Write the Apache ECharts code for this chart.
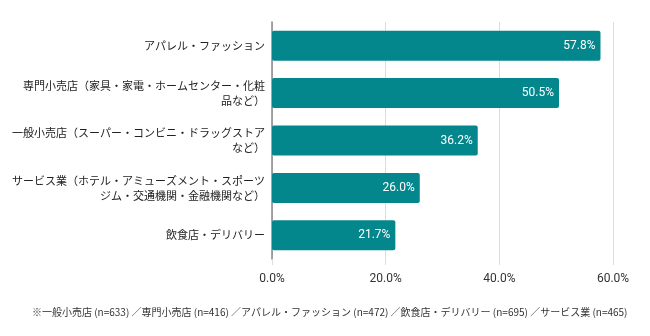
<!DOCTYPE html>
<html><head><meta charset="utf-8">
<script src="https://cdn.jsdelivr.net/npm/echarts@6/dist/echarts.min.js"></script>
<style>html,body{margin:0;padding:0;background:#fff}#c{width:650px;height:336px}</style>
</head><body><div id="c"></div>
<script>
const categories = [
  "アパレル・ファッション",
  "専門小売店（家具・家電・ホームセンター・化粧\n品など）",
  "一般小売店（スーパー・コンビニ・ドラッグストア\nなど）",
  "サービス業（ホテル・アミューズメント・スポーツ\nジム・交通機関・金融機関など）",
  "飲食店・デリバリー"
];
const values = [57.8, 50.5, 36.2, 26.0, 21.7];
const xTicks = [0, 20, 40, 60];
const footnote = "※一般小売店 (n=633) ／専門小売店 (n=416) ／アパレル・ファッション (n=472) ／飲食店・デリバリー (n=695) ／サービス業 (n=465)";

const chart = echarts.init(document.getElementById('c'));
chart.setOption({
  animation: false,
  grid: {left: 272, right: 37, top: 22, bottom: 77, containLabel: false, outerBoundsMode: 'none'},
  graphic: [{
    type: 'text', left: 32, top: 307,
    style: {text: footnote, font: '10px "Noto Sans CJK JP"', fill: '#333'}
  }],
  xAxis: {
    type: 'value', min: xTicks[0], max: xTicks[xTicks.length-1], interval: 20,
    axisLine: {show: false},
    axisTick: {show: true, length: 6, lineStyle: {color: '#ddd'}},
    splitLine: {lineStyle: {color: '#dcdcdc', width: 1}},
    axisLabel: {formatter: v => v.toFixed(1) + '%', color: '#333', fontSize: 12, fontFamily: 'Roboto', margin: 14}
  },
  yAxis: {
    type: 'category', data: categories, inverse: true,
    axisLine: {show: true, lineStyle: {color: '#888', width: 1.5}},
    axisTick: {show: false},
    axisLabel: {color: '#222', fontSize: 11, fontFamily: '"Noto Sans CJK JP"', lineHeight: 15, margin: 7, align: 'right'}
  },
  series: [{
    type: 'bar', data: values, barWidth: 30,
    itemStyle: {color: '#04878c', borderRadius: 2},
    label: {show: true, position: 'insideRight', color: '#fff', fontSize: 12, fontFamily: 'Roboto', distance: 5,
      formatter: p => p.value.toFixed(1) + '%'}
  }]
});
</script></body></html>
